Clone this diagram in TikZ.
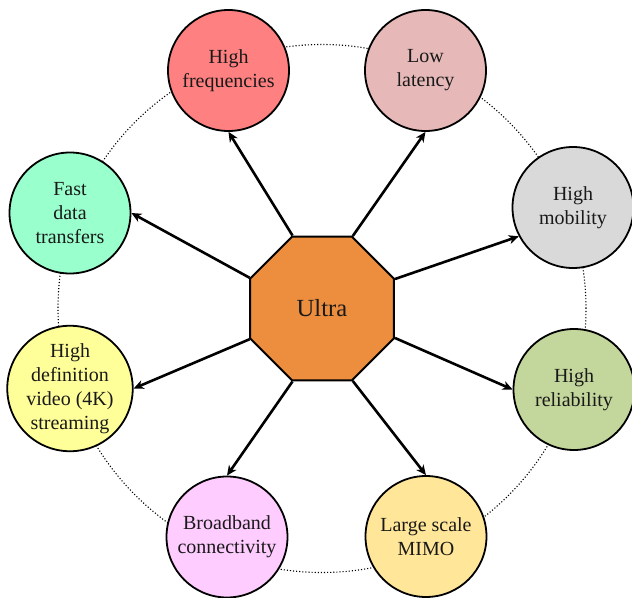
\documentclass[tikz,border=0pt]{standalone}
\usepackage{fontspec}
\setmainfont{Liberation Serif}
\usetikzlibrary{shapes.geometric,arrows.meta}
\definecolor{cHF}{HTML}{FF8080}
\definecolor{cLL}{HTML}{E6B9B8}
\definecolor{cHM}{HTML}{D9D9D9}
\definecolor{cHR}{HTML}{C3D69B}
\definecolor{cLS}{HTML}{FFE699}
\definecolor{cBB}{HTML}{FFCCFF}
\definecolor{cHD}{HTML}{FFFF99}
\definecolor{cFD}{HTML}{99FFCC}
\definecolor{cOct}{HTML}{ED8E3E}
\tikzset{
  bubble/.style={circle, draw=black, line width=0.9pt, minimum size=60.5pt, inner sep=0pt, align=center, font=\fontsize{10}{12}\selectfont, text=black!90},
  hub/.style={regular polygon, regular polygon sides=8, minimum size=77.9pt, inner sep=0pt, draw=black, line width=1pt, fill=cOct, font=\fontsize{12.3}{14}\selectfont, text=black!90},
  link/.style={line width=1.3pt, -{Stealth[length=5pt,width=4.5pt,inset=1.5pt]}},
  orbit/.style={densely dotted, line width=0.55pt}
}
\begin{document}
\begin{tikzpicture}[x=0.5pt,y=-0.5pt]
\useasboundingbox (0,0) rectangle (632,598);
\coordinate (c) at (322,308.5);
\draw[orbit] (c) circle[radius=132pt];
\node[hub] (oct) at (c) {Ultra};
\node[bubble, fill=cHF] (hf) at (228.5,70.5) {High\\frequencies};
\node[bubble, fill=cLL] (ll) at (425.5,70.5) {Low\\latency};
\node[bubble, fill=cHM] (hm) at (573,207.5) {High\\mobility};
\node[bubble, fill=cHR] (hr) at (574,389.5) {High\\reliability};
\node[bubble, fill=cLS] (ls) at (426,536.5) {Large scale\\MIMO};
\node[bubble, fill=cBB] (bb) at (227,537) {Broadband\\connectivity};
\node[bubble, fill=cHD] (hd) at (70,388.5) {High\\definition\\video (4K)\\streaming};
\node[bubble, fill=cFD] (fd) at (70,213) {Fast\\data\\transfers};
\draw[link] (oct.112.5) -- (hf.south);
\draw[link] (oct.67.5) -- (ll.south);
\draw[link] (oct.22.5) -- (hm.208);
\draw[link] (oct.-22.5) -- (hr.west);
\draw[link] (oct.-67.5) -- (ls.north);
\draw[link] (oct.-112.5) -- (bb.north);
\draw[link] (oct.-157.5) -- (hd.east);
\draw[link] (oct.157.5) -- (fd.east);
\end{tikzpicture}
\end{document}
